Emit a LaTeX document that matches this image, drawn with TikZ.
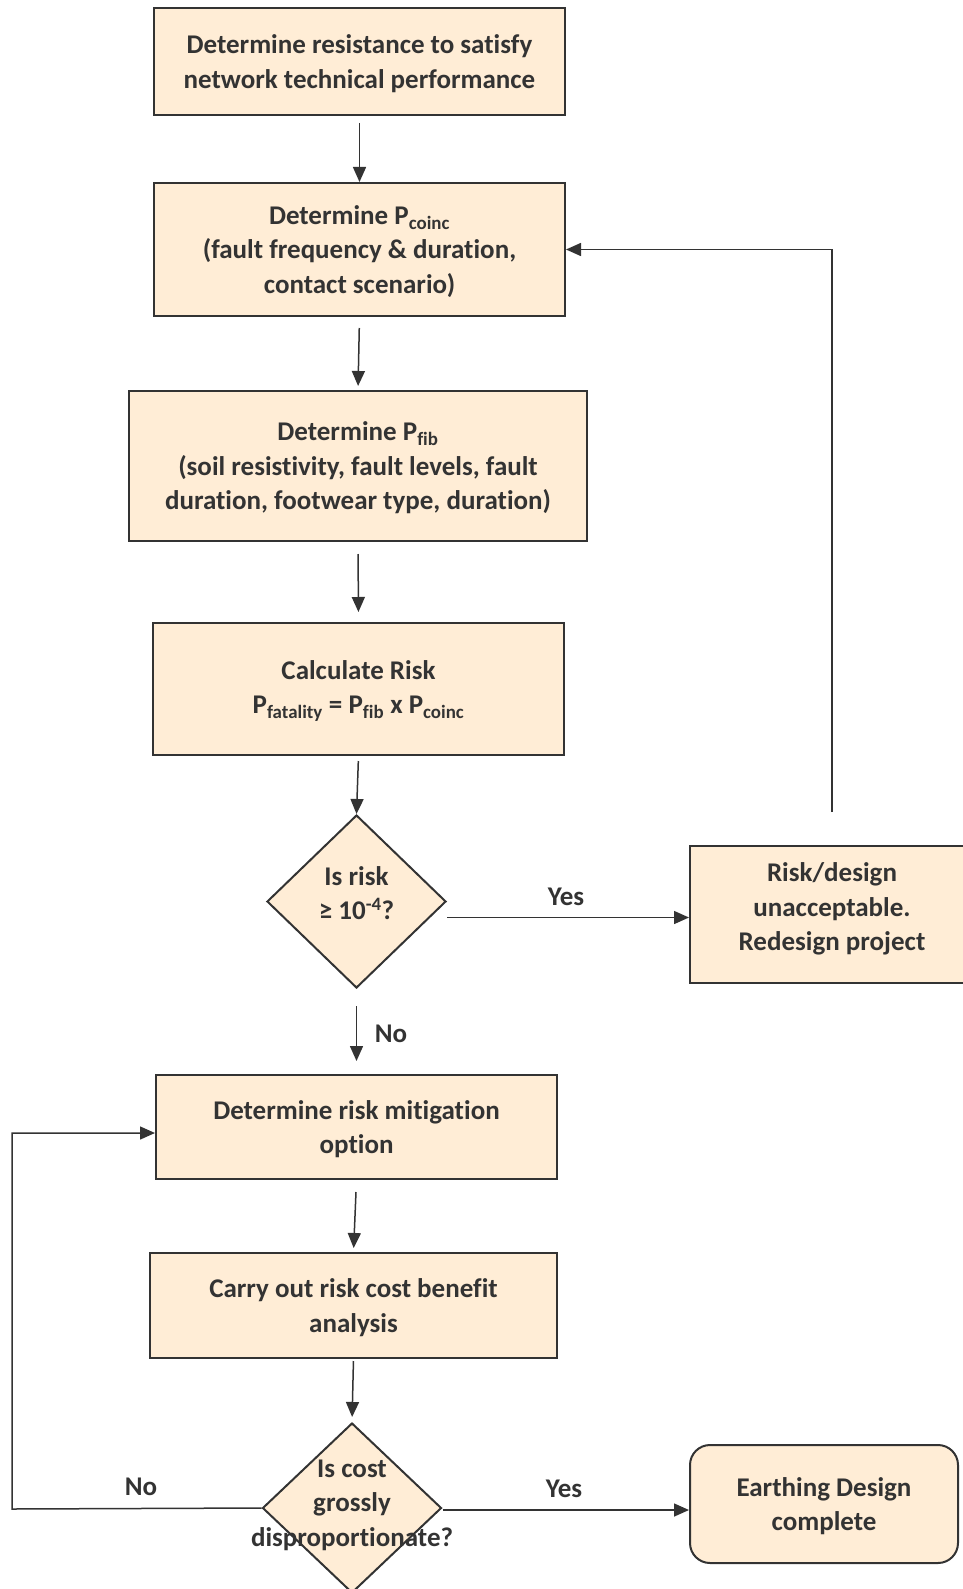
\documentclass[tikz,border=0pt]{standalone}
\usepackage{fontspec}
\setmainfont{Carlito}[BoldFont={Carlito Bold},Ligatures=NoCommon]
\usetikzlibrary{arrows.meta,shapes.geometric}
\definecolor{boxfill}{RGB}{255,237,214}
\definecolor{ink}{RGB}{51,51,51}
\begin{document}
\begin{tikzpicture}[x=1pt,y=-1pt,
  every node/.style={font=\fontsize{27}{34.5}\selectfont\bfseries, text=ink, align=center, inner sep=0pt},
  procbox/.style={draw=ink, line width=2pt, fill=boxfill},
  decbox/.style={draw=ink, line width=2pt, fill=boxfill, diamond},
  arr/.style={draw=ink, line width=1.5pt, -{Triangle[length=15pt,width=13pt]}},
  lbl/.style={}
]
\useasboundingbox (0,0) rectangle (963,1589);

\node[procbox, minimum width=411pt, minimum height=107pt] (b1) at (359.5,61.5) {};
\node (b1t) at (359.5,63.5) {Determine resistance to satisfy\\network technical performance};
\node[procbox, minimum width=411pt, minimum height=133pt] (b2) at (359.5,249.5) {};
\node (b2t) at (359.5,251.5) {Determine P\textsubscript{coinc}\\(fault frequency \& duration,\\contact scenario)};
\node[procbox, minimum width=458pt, minimum height=150pt] (b3) at (358,466) {};
\node (b3t) at (358,468) {Determine P\textsubscript{fib}\\(soil resistivity, fault levels, fault\\duration, footwear type, duration)};
\node[procbox, minimum width=411pt, minimum height=132pt] (b4) at (358.5,689) {};
\node (b4t) at (358.5,691) {Calculate Risk\\P\textsubscript{fatality} = P\textsubscript{fib} x P\textsubscript{coinc}};
\node[decbox, minimum width=179pt, minimum height=173pt] (d1) at (356.5,901.5) {};
\node (d1t) at (356.5,893) {Is risk\\≥ 10\textsuperscript{-4}?};
\node[procbox, minimum width=284pt, minimum height=137pt] (r) at (832,914.5) {};
\node (rt) at (832,909) {Risk/design\\unacceptable.\\Redesign project};
\node[procbox, minimum width=401pt, minimum height=104pt] (b5) at (356.5,1127) {};
\node (b5t) at (356.5,1129) {Determine risk mitigation\\option};
\node[procbox, minimum width=407pt, minimum height=105pt] (b6) at (353.5,1305.5) {};
\node (b6t) at (353.5,1307.5) {Carry out risk cost benefit\\analysis};
\node[decbox, minimum width=179pt, minimum height=170pt] (d2) at (352,1508) {};
\node (d2t) at (352,1505) {Is cost\\grossly\\disproportionate?};
\node[procbox, rounded corners=20pt, minimum width=268pt, minimum height=118pt] (e) at (824,1504) {};
\node (et) at (824,1506) {Earthing Design\\complete};

% vertical flow
\draw[arr, shorten <=7pt] (b1.south) -- (b2.north);
\draw[arr, shorten <=11pt, shorten >=4pt] (b2.south) -- (b3.north);
\draw[arr, shorten <=12pt, shorten >=10pt] (b3.south) -- (b4.north);
\draw[arr, shorten <=5pt] (b4.south) -- (d1.north);
\draw[arr, shorten <=17pt, shorten >=13pt] (d1.south) -- (b5.north);
\draw[arr, shorten <=12pt, shorten >=4pt] (b5.south) -- (b6.north);
\draw[arr, shorten <=2pt, shorten >=5pt] (b6.south) -- (d2.north);

% Yes branch to redesign
\coordinate (y1s) at ([yshift=-16pt]d1.east);
\draw[arr] (y1s) -- (y1s -| r.west);
\node[lbl] (yes1) at (566,897) {Yes};

% feedback loop
\coordinate (fb) at ([yshift=33pt]r.north);
\draw[arr] (fb) |- (b2.east);

\node[lbl] (no1) at (391,1034) {No};

% bottom decision
\coordinate (y2s) at ([yshift=-2pt]d2.east);
\draw[arr] (y2s) -- (y2s -| e.west);
\node[lbl] (yes2) at (564,1489) {Yes};

\coordinate (nl) at (12,1509);
\draw[arr] (d2.west) -- (nl) |- ([yshift=-6pt]b5.west);
\node[lbl] (no2) at (141,1487) {No};
\end{tikzpicture}
\end{document}
